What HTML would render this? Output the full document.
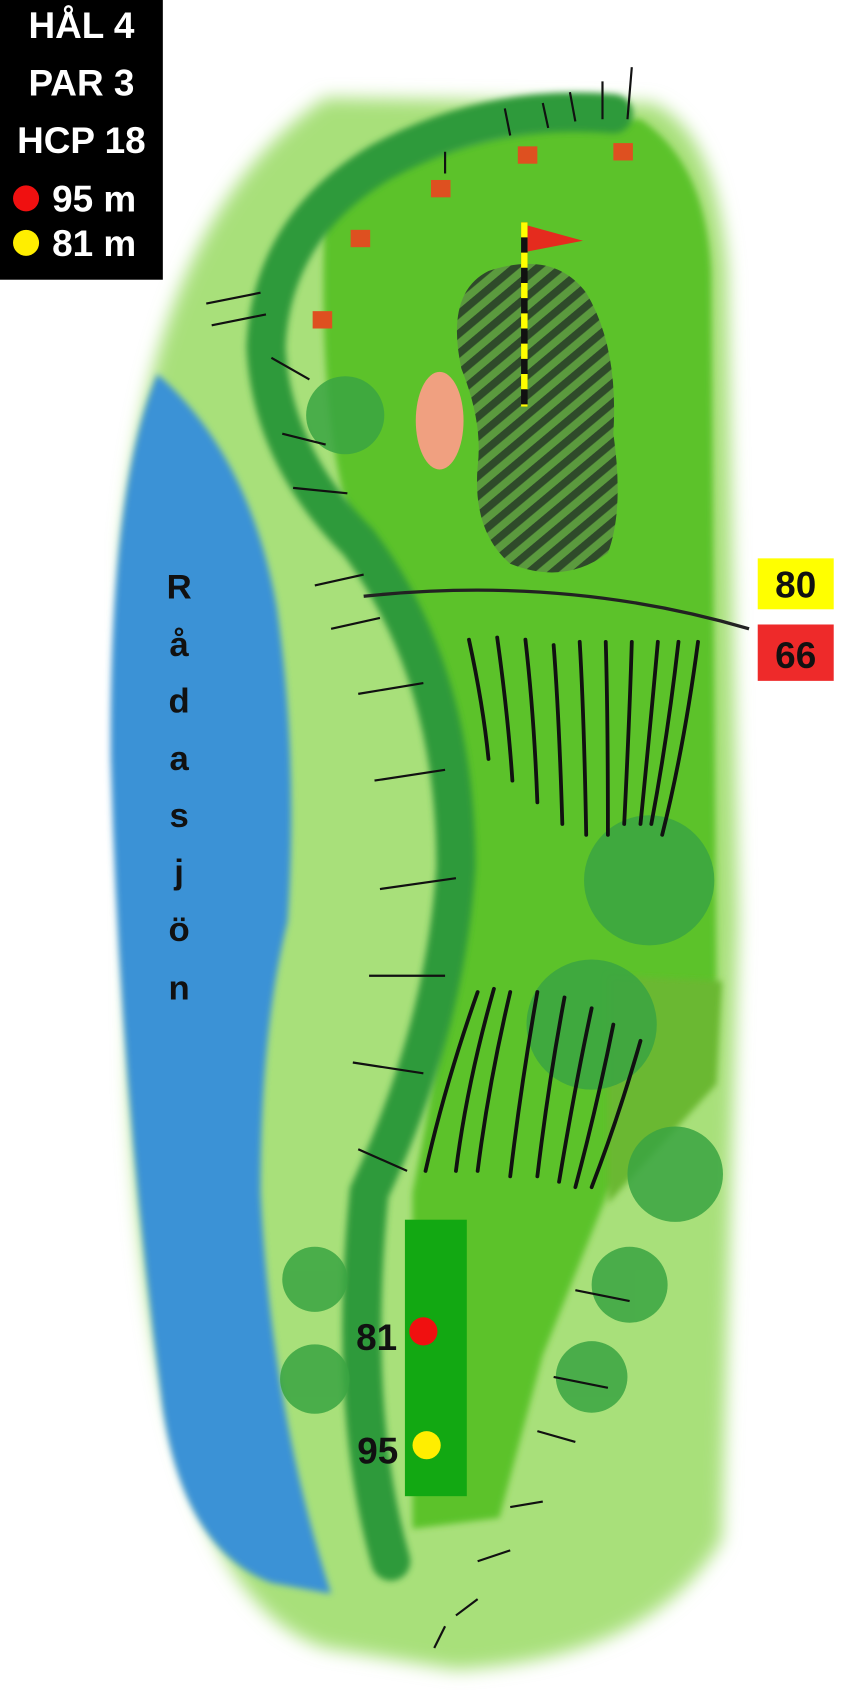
<!DOCTYPE html>
<html><head><meta charset="utf-8"><style>
html,body{margin:0;padding:0;background:#fff;width:850px;height:1700px;overflow:hidden}
svg{display:block}
</style></head><body>
<svg width="850" height="1700" viewBox="0 0 783 1568" preserveAspectRatio="none" xmlns="http://www.w3.org/2000/svg">
<defs>
<filter id="b" x="-20%" y="-20%" width="140%" height="140%"><feGaussianBlur stdDeviation="8"/></filter>
<filter id="b2"><feGaussianBlur stdDeviation="3"/></filter>
<pattern id="h" width="14" height="14" patternUnits="userSpaceOnUse" patternTransform="rotate(-40)">
<rect width="14" height="14" fill="#5b9a3e"/><rect width="14" height="7" fill="#2f4a2a"/></pattern>
</defs>
<path d="M300 90 L600 95 Q660 120 670 250 L680 850 L665 1420 Q600 1530 420 1540 L300 1520 Q140 1470 120 1000 L115 500 Q140 200 300 90 Z" fill="#a8e07a" filter="url(#b)"/>
<path d="M145 345 Q230 420 255 560 Q275 700 265 850 Q240 950 240 1100 Q250 1300 305 1470 L250 1460 Q170 1430 150 1300 Q110 1000 102 700 Q100 450 145 345 Z" fill="#3a92d6" filter="url(#b2)"/>
<path d="M300 180 Q450 110 590 110 Q650 150 655 250 L660 900 L650 1000 Q600 1050 560 1100 L500 1250 L460 1400 L380 1410 L380 1100 Q420 900 420 800 Q400 600 330 500 Q290 400 300 180 Z" fill="#5cc22a" filter="url(#b2)"/>
<path d="M560 900 L665 905 L660 1000 L560 1110 Z" fill="#6bb832" filter="url(#b2)"/>
<path d="M565 105 Q450 95 350 150 Q250 210 245 320 Q250 420 330 500 Q420 620 420 800 Q410 950 340 1100 Q320 1300 360 1440" fill="none" stroke="#2e9a3a" stroke-width="36" stroke-linecap="round" filter="url(#b2)"/>
<g fill="#3aa542" opacity="0.85">
<circle cx="318" cy="383" r="36"/><circle cx="598" cy="812" r="60"/><circle cx="545" cy="945" r="60"/>
<circle cx="622" cy="1083" r="44"/><circle cx="580" cy="1185" r="35"/><circle cx="545" cy="1270" r="33"/>
<circle cx="290" cy="1180" r="30"/><circle cx="290" cy="1272" r="32"/>
</g>
<g stroke="#111" stroke-width="2" fill="none">
<path d="M190 280 L240 270 M195 300 L245 290 M250 330 L285 350 M260 400 L300 410 M270 450 L320 455 M290 540 L335 530 M305 580 L350 570 M330 640 L390 630 M345 720 L410 710 M350 820 L420 810 M340 900 L410 900 M325 980 L390 990 M330 1060 L375 1080 M530 1190 L580 1200 M510 1270 L560 1280 M495 1320 L530 1330 M470 1390 L500 1385 M440 1440 L470 1430 M420 1490 L440 1475 M400 1520 L410 1500"/>
<path d="M465 100 L470 125 M500 95 L505 118 M525 85 L530 112 M555 75 L555 110 M582 62 L578 110 M410 140 L410 160"/>
</g>
<g stroke="#111" stroke-width="3.5" fill="none" stroke-linecap="round">
<path d="M432 590 Q445 650 450 700"/><path d="M458 588 Q468 660 472 720"/><path d="M484 590 Q492 660 495 740"/><path d="M510 595 Q515 660 518 760"/><path d="M534 592 Q538 660 540 770"/><path d="M558 592 Q560 660 560 770"/><path d="M582 592 Q580 660 575 760"/><path d="M606 592 Q600 660 590 760"/><path d="M625 592 Q615 680 600 760"/><path d="M643 592 Q630 690 610 770"/>
<path d="M440 915 Q410 1000 392 1080"/><path d="M455 912 Q430 1000 420 1080"/><path d="M470 915 Q450 1000 440 1080"/><path d="M495 915 Q480 1000 470 1085"/><path d="M520 920 Q505 1000 495 1085"/><path d="M545 930 Q530 1000 515 1090"/><path d="M565 945 Q550 1020 530 1095"/><path d="M590 960 Q570 1030 545 1095"/>
</g>
<path d="M450 250 Q510 230 540 270 Q570 320 565 400 Q575 470 560 510 Q520 540 470 520 Q435 490 440 430 Q445 390 425 340 Q410 270 450 250 Z" fill="url(#h)"/>
<ellipse cx="405" cy="388" rx="22" ry="45" fill="#f0a080"/>
<line x1="483" y1="205" x2="483" y2="375" stroke="#111" stroke-width="6"/>
<line x1="483" y1="205" x2="483" y2="375" stroke="#ff0" stroke-width="6" stroke-dasharray="14 14"/>
<path d="M486 208 L537 222 L486 232 Z" fill="#e52b1e"/>
<g fill="#de5020"><rect x="288" y="287" width="18" height="16"/><rect x="323" y="212" width="18" height="16"/><rect x="397" y="166" width="18" height="16"/><rect x="477" y="135" width="18" height="16"/><rect x="565" y="132" width="18" height="16"/></g>
<path d="M335 550 Q520 530 690 580" stroke="#222" stroke-width="3" fill="none"/>
<rect x="698" y="515" width="70" height="47" fill="#ffff00"/>
<rect x="698" y="576" width="70" height="52" fill="#ee2a2a"/>
<g font-family="Liberation Sans, sans-serif" font-weight="bold" font-size="34" fill="#111" text-anchor="middle">
<text x="733" y="551">80</text><text x="733" y="616">66</text>
<text x="347" y="1245">81</text><text x="348" y="1350">95</text>
</g>
<rect x="373" y="1125" width="57" height="255" fill="#12a812"/>
<circle cx="390" cy="1228" r="13" fill="#f01010"/>
<circle cx="393" cy="1333" r="13" fill="#ffee00"/>
<g font-family="Liberation Sans, sans-serif" font-weight="bold" font-size="32" fill="#111" text-anchor="middle">
<text x="165" y="552">R</text><text x="165" y="605">å</text><text x="165" y="657">d</text><text x="165" y="710">a</text><text x="165" y="763">s</text><text x="165" y="815">j</text><text x="165" y="868">ö</text><text x="165" y="922">n</text>
</g>
<rect x="0" y="0" width="150" height="258" fill="#000"/>
<g font-family="Liberation Sans, sans-serif" font-weight="bold" font-size="34" fill="#fff">
<text x="75" y="35" text-anchor="middle">HÅL 4</text>
<text x="75" y="88" text-anchor="middle">PAR 3</text>
<text x="75" y="141" text-anchor="middle">HCP 18</text>
<text x="48" y="195">95 m</text>
<text x="48" y="236">81 m</text>
</g>
<circle cx="24" cy="183" r="12" fill="#f01010"/>
<circle cx="24" cy="224" r="12" fill="#ffee00"/>
</svg>
</body></html>
